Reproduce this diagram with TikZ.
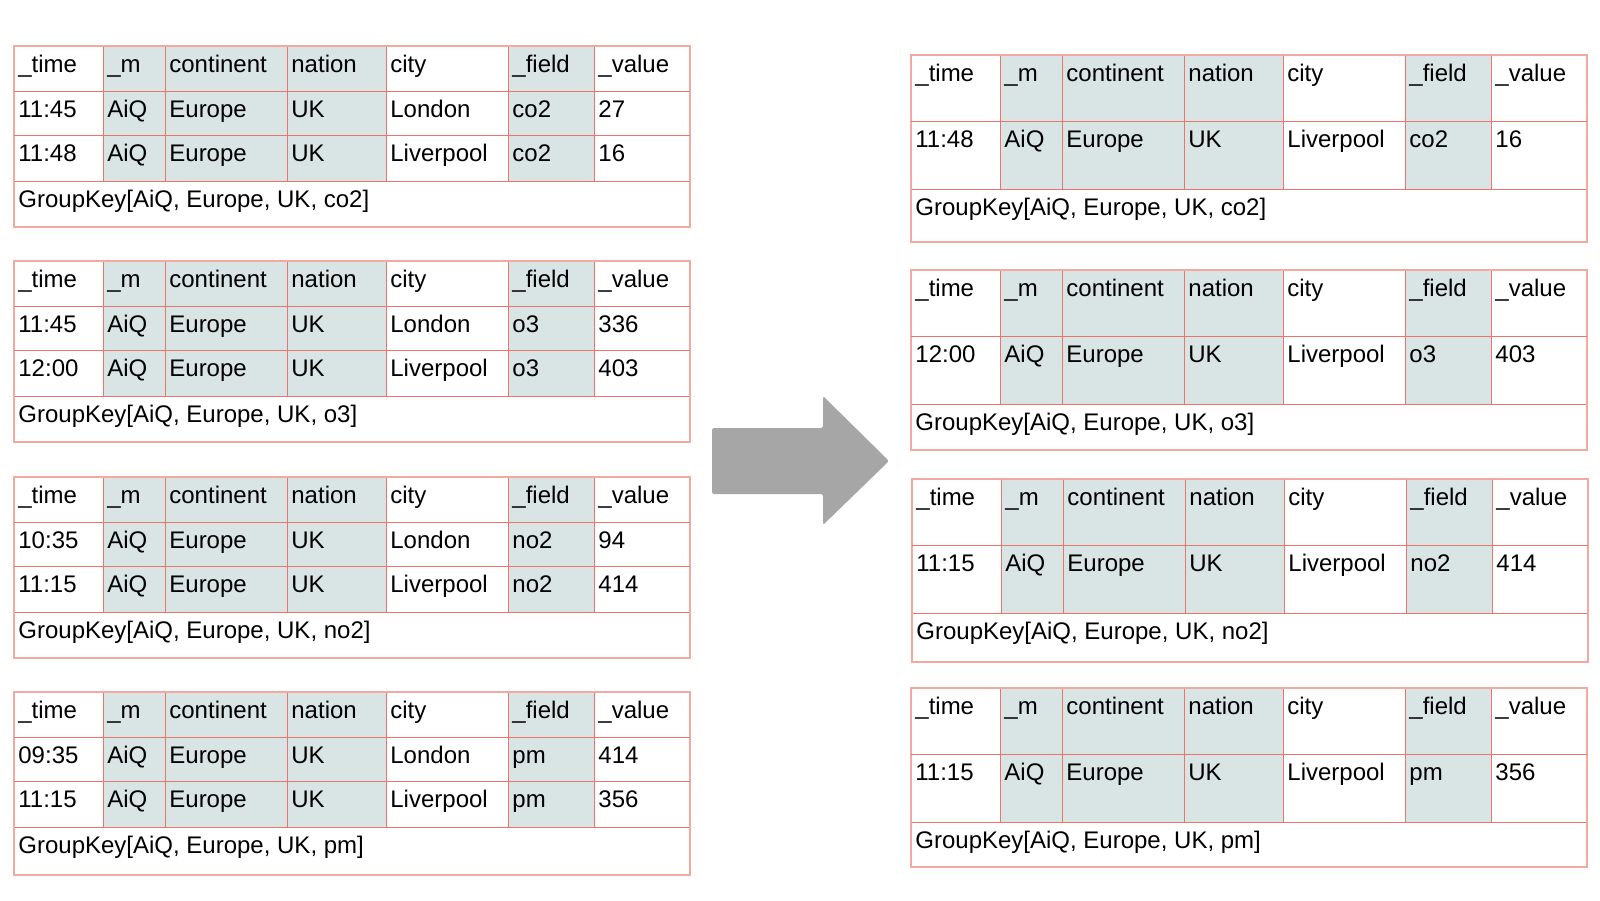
\documentclass[tikz,border=0pt]{standalone}
\usepackage{fontspec}
\setmainfont{Liberation Sans}

\definecolor{gridred}{RGB}{234,117,107}
\definecolor{edgered}{RGB}{243,168,160}
\definecolor{keyfill}{RGB}{217,228,228}
\definecolor{arrowgray}{RGB}{166,166,166}

\newcommand{\cellfont}{\fontsize{12}{14}\selectfont}

\tikzset{
  celltext/.style={anchor=base west, inner sep=0pt, font=\cellfont},
  gridline/.style={draw=gridred, line width=0.5pt},
  edgeline/.style={draw=edgered, line width=0.8pt},
  keyshade/.style={fill=keyfill},
}

% #1 name, #2 left, #3 top, #4 data rows, #5 key top, #6 key bottom, #7 key text
\newcommand{\grouptable}[7]{%
\begin{scope}[shift={(#2,#3)}]
  \fill[keyshade] (89,0) rectangle (372,#5);
  \fill[keyshade] (494,0) rectangle (580,#5);
  \foreach \cx in {89,151,273,372,494,580}
    \draw[gridline] (\cx,0) -- (\cx,#5);
  \draw[gridline] (0,#5) -- (676,#5);
  \draw[edgeline] (0,0) rectangle (676,#6);
  \foreach \cx/\txt [count=\kk] in {0/\_time,89/\_m,151/continent,273/nation,372/city,494/\_field,580/\_value}
    \node[celltext] (#1-h\kk) at (\cx+4,26) {\txt};
  \foreach \tTop/\tTime/\tM/\tCont/\tNat/\tCity/\tFld/\tVal [count=\rr] in {#4} {
    \draw[gridline] (0,\tTop) -- (676,\tTop);
    \foreach \cx/\txt [count=\kk] in {0/\tTime,89/\tM,151/\tCont,273/\tNat,372/\tCity,494/\tFld,580/\tVal}
      \node[celltext] (#1-\rr-\kk) at (\cx+4,\tTop+26) {\txt};
  }
  \node[celltext] (#1-key) at (4,#5+26) {#7};
\end{scope}}

\begin{document}
\begin{tikzpicture}[x=0.5pt,y=-0.5pt]
\useasboundingbox (0,0) rectangle (1600,900);

% input tables
\grouptable{co2in}{14}{46}{45/11:45/AiQ/Europe/UK/London/co2/27, 89/11:48/AiQ/Europe/UK/Liverpool/co2/16}{135}{181}{GroupKey[AiQ, Europe, UK, co2]}
\grouptable{o3in}{14}{261}{45/11:45/AiQ/Europe/UK/London/o3/336, 89/12:00/AiQ/Europe/UK/Liverpool/o3/403}{135}{181}{GroupKey[AiQ, Europe, UK, o3]}
\grouptable{no2in}{14}{477}{45/10:35/AiQ/Europe/UK/London/no2/94, 89/11:15/AiQ/Europe/UK/Liverpool/no2/414}{135}{181}{GroupKey[AiQ, Europe, UK, no2]}
\grouptable{pmin}{14}{692}{45/09:35/AiQ/Europe/UK/London/pm/414, 89/11:15/AiQ/Europe/UK/Liverpool/pm/356}{135}{183}{GroupKey[AiQ, Europe, UK, pm]}

% arrow
\fill[arrowgray, rounded corners=0.8pt] (712,428) -- (823,428) -- (823,396) -- (889,461)
  -- (823,525) -- (823,494) -- (712,494) -- cycle;

% output tables
\grouptable{co2out}{911}{55}{66/11:48/AiQ/Europe/UK/Liverpool/co2/16}{134}{187}{GroupKey[AiQ, Europe, UK, co2]}
\grouptable{o3out}{911}{270}{66/12:00/AiQ/Europe/UK/Liverpool/o3/403}{134}{180}{GroupKey[AiQ, Europe, UK, o3]}
\grouptable{no2out}{912}{479}{66/11:15/AiQ/Europe/UK/Liverpool/no2/414}{134}{183}{GroupKey[AiQ, Europe, UK, no2]}
\grouptable{pmout}{911}{688}{66/11:15/AiQ/Europe/UK/Liverpool/pm/356}{134}{179}{GroupKey[AiQ, Europe, UK, pm]}

\end{tikzpicture}
\end{document}
